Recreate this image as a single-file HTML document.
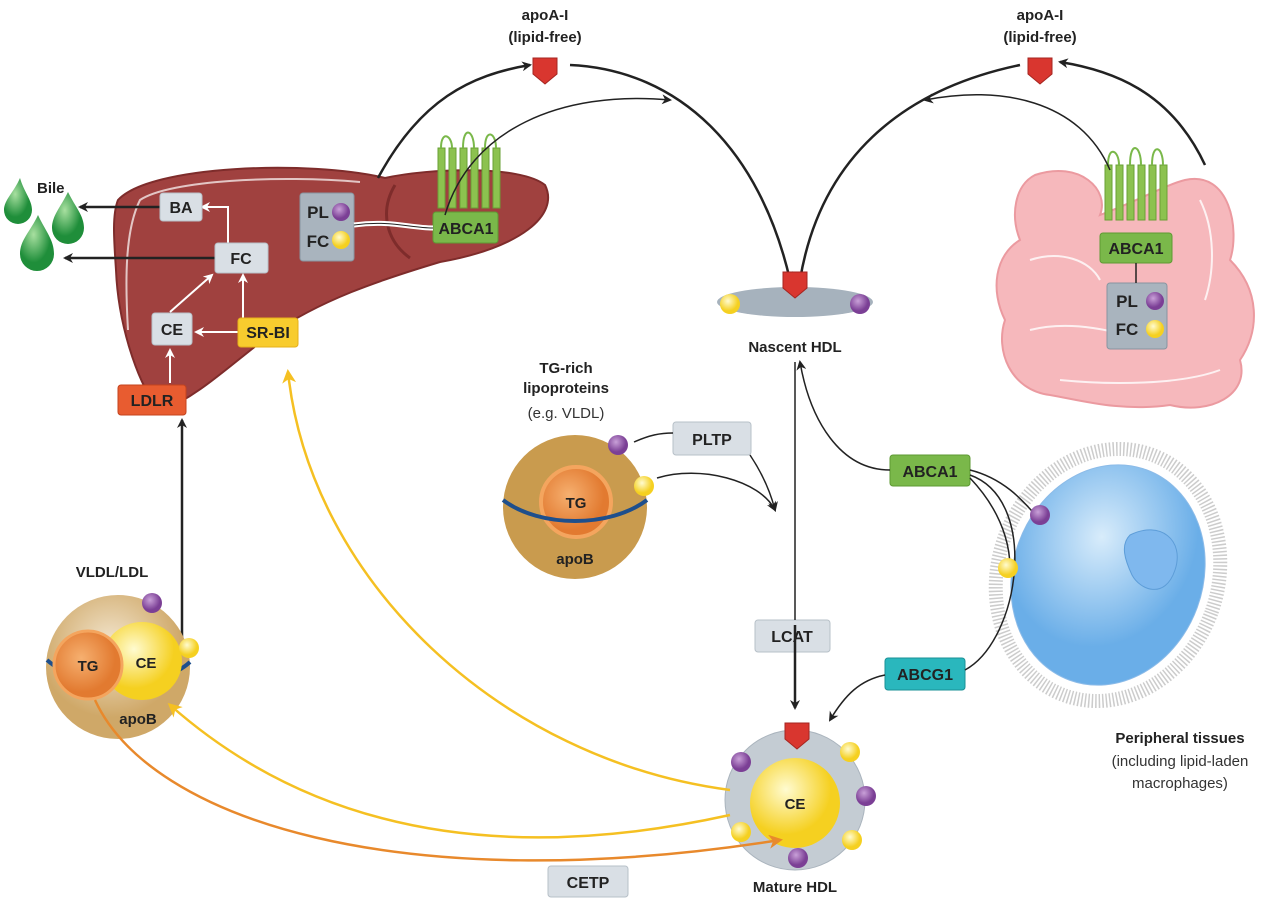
<!DOCTYPE html>
<html><head><meta charset="utf-8"><style>
html,body{margin:0;padding:0;background:#fff;}
svg{display:block;font-family:"Liberation Sans",Arial,sans-serif;}
.b{font-weight:bold;font-size:15px;fill:#222;}
.n{font-size:15px;fill:#333;}
</style></head><body>
<svg width="1270" height="899" viewBox="0 0 1270 899">
<defs>
<marker id="ak" markerWidth="10" markerHeight="10" refX="8" refY="5" orient="auto" markerUnits="userSpaceOnUse"><path d="M0,0 L10,5 L0,10 L3,5Z" fill="#222"/></marker>
<marker id="aw" markerWidth="10" markerHeight="10" refX="8" refY="5" orient="auto" markerUnits="userSpaceOnUse"><path d="M0,0 L10,5 L0,10 L3,5Z" fill="#fff"/></marker>
<marker id="ay" markerWidth="14" markerHeight="14" refX="11" refY="7" orient="auto" markerUnits="userSpaceOnUse"><path d="M0,0 L14,7 L0,14 L4,7Z" fill="#f5c022"/></marker>
<marker id="ao" markerWidth="14" markerHeight="14" refX="11" refY="7" orient="auto" markerUnits="userSpaceOnUse"><path d="M0,0 L14,7 L0,14 L4,7Z" fill="#e8892c"/></marker>
<radialGradient id="gy" cx="40%" cy="35%"><stop offset="0" stop-color="#fffbd0"/><stop offset="1" stop-color="#f5d020"/></radialGradient>
<radialGradient id="gp" cx="40%" cy="35%"><stop offset="0" stop-color="#c9a0d8"/><stop offset="1" stop-color="#7b3f95"/></radialGradient>
<radialGradient id="go" cx="40%" cy="40%"><stop offset="0" stop-color="#f6b070"/><stop offset="1" stop-color="#e27a30"/></radialGradient>
<radialGradient id="gg" cx="40%" cy="35%"><stop offset="0" stop-color="#a8e0a0"/><stop offset="1" stop-color="#1f8e3a"/></radialGradient>
<radialGradient id="gb" cx="40%" cy="35%"><stop offset="0" stop-color="#d8ecfb"/><stop offset="1" stop-color="#6aaee8"/></radialGradient>
<radialGradient id="gt" cx="45%" cy="35%"><stop offset="0" stop-color="#f3e6cf"/><stop offset="1" stop-color="#cfa868"/></radialGradient>
<g id="sh"><path d="M-12,-12 H12 V4 L0,14 L-12,4Z" fill="#d9362f" stroke="#a52520"/></g>
</defs>

<!-- intestine -->
<g fill="#f6b8bc" stroke="#eb9aa0" stroke-width="2">
<path d="M1035,175 C1080,160 1110,190 1100,215 C1140,200 1165,185 1185,180 C1230,170 1240,230 1230,260 C1260,290 1260,330 1240,360 C1250,395 1210,415 1170,405 C1120,412 1080,400 1050,395 C1010,390 995,350 1005,320 C990,290 995,255 1020,240 C1010,215 1015,185 1035,175Z"/>
</g>
<g fill="none" stroke="#fff" stroke-width="2" opacity="0.8">
<path d="M1030,260 C1060,250 1090,260 1100,280"/><path d="M1030,330 C1070,320 1120,330 1150,345"/><path d="M1200,200 C1215,230 1215,270 1205,300"/><path d="M1060,380 C1110,385 1180,385 1220,370"/>
</g>

<!-- cell -->
<ellipse cx="1108" cy="575" rx="110" ry="128" transform="rotate(20 1108 575)" fill="none" stroke="#ccc" stroke-width="14" stroke-dasharray="1.5 2"/>
<ellipse cx="1108" cy="575" rx="95" ry="112" transform="rotate(20 1108 575)" fill="url(#gb)" stroke="#8cbbe8"/>
<path d="M1130,535 C1160,520 1185,540 1175,570 C1165,600 1140,590 1132,575 C1125,560 1120,545 1130,535Z" fill="#7fb8ee" stroke="#5d9dd8"/>

<!-- liver -->
<path d="M118,200 C150,165 310,160 385,178 C430,168 520,165 545,185 C560,215 520,248 440,262 C380,280 320,300 270,335 C230,365 200,395 160,412 C135,380 118,320 116,270 C114,240 112,215 118,200Z" fill="#a0413f" stroke="#7e2c2b" stroke-width="2"/>
<path d="M128,330 C125,280 125,230 140,200 C170,180 280,175 360,182" fill="none" stroke="#fff" stroke-width="2" opacity="0.7"/>
<path d="M395,185 C380,210 385,240 410,258" fill="none" stroke="#7e2c2b" stroke-width="3"/>

<!-- bile -->
<g fill="url(#gg)">
<path d="M20,178 C14,192 4,200 4,210 A14,14 0 0,0 32,210 C32,200 24,192 20,178Z"/>
<path d="M68,192 C60,208 52,216 52,228 A16,16 0 0,0 84,228 C84,216 76,208 68,192Z"/>
<path d="M38,215 C30,232 20,240 20,254 A17,17 0 0,0 54,254 C54,240 46,232 38,215Z"/>
</g>
<text x="37" y="193" class="b">Bile</text>

<!-- liver arrows -->
<g stroke="#222" stroke-width="2.5" fill="none" marker-end="url(#ak)">
<line x1="160" y1="207" x2="80" y2="207"/><line x1="215" y1="258" x2="65" y2="258"/>
</g>
<g stroke="#fff" stroke-width="2" fill="none" marker-end="url(#aw)">
<polyline points="228,243 228,207 202,207"/>
<line x1="170" y1="312" x2="212" y2="275"/>
<line x1="243" y1="318" x2="243" y2="275"/>
<line x1="238" y1="332" x2="196" y2="332"/>
<line x1="170" y1="383" x2="170" y2="350"/>
</g>

<!-- boxes -->
<g font-weight="bold" font-size="16" text-anchor="middle" fill="#222">
<rect x="160" y="193" width="42" height="28" rx="3" fill="#d9dfe5" stroke="#b7c0c8"/><text x="181" y="213">BA</text>
<rect x="215" y="243" width="53" height="30" rx="3" fill="#d9dfe5" stroke="#b7c0c8"/><text x="241" y="264">FC</text>
<rect x="152" y="313" width="40" height="32" rx="3" fill="#d9dfe5" stroke="#b7c0c8"/><text x="172" y="335">CE</text>
<rect x="238" y="318" width="60" height="29" rx="3" fill="#f8cc2e" stroke="#e6b01a"/><text x="268" y="338">SR-BI</text>
<rect x="118" y="385" width="68" height="30" rx="3" fill="#e85c30" stroke="#c4431e"/><text x="152" y="406">LDLR</text>
<rect x="300" y="193" width="54" height="68" rx="3" fill="#a9b4be" stroke="#8895a0"/><text x="318" y="218" font-size="17">PL</text><text x="318" y="247" font-size="17">FC</text>
<rect x="433" y="212" width="65" height="31" rx="3" fill="#7ab84a" stroke="#5e9a33"/><text x="466" y="234">ABCA1</text>
<rect x="1100" y="233" width="72" height="30" rx="3" fill="#7ab84a" stroke="#5e9a33"/><text x="1136" y="254">ABCA1</text>
<rect x="1107" y="283" width="60" height="66" rx="3" fill="#a9b4be" stroke="#8895a0"/><text x="1127" y="307" font-size="17">PL</text><text x="1127" y="335" font-size="17">FC</text>
<rect x="673" y="422" width="78" height="33" rx="3" fill="#d9dfe5" stroke="#b7c0c8"/><text x="712" y="445">PLTP</text>
<rect x="890" y="455" width="80" height="31" rx="3" fill="#7ab84a" stroke="#5e9a33"/><text x="930" y="477">ABCA1</text>
<rect x="755" y="620" width="75" height="32" rx="3" fill="#d9dfe5" stroke="#b7c0c8"/><text x="792" y="642">LCAT</text>
<rect x="885" y="658" width="80" height="32" rx="3" fill="#2ab7bd" stroke="#1a9096"/><text x="925" y="680">ABCG1</text>
<rect x="548" y="866" width="80" height="31" rx="3" fill="#d9dfe5" stroke="#b7c0c8"/><text x="588" y="888">CETP</text>
</g>
<circle cx="341" cy="212" r="9" fill="url(#gp)"/><circle cx="341" cy="240" r="9" fill="url(#gy)"/>
<circle cx="1155" cy="301" r="9" fill="url(#gp)"/><circle cx="1155" cy="329" r="9" fill="url(#gy)"/>
<path d="M354,225 C390,220 410,228 433,228" fill="none" stroke="#fff" stroke-width="5"/>
<path d="M354,225 C390,220 410,228 433,228" fill="none" stroke="#222" stroke-width="1"/>
<line x1="1136" y1="263" x2="1136" y2="283" stroke="#222" stroke-width="1.5"/>

<!-- transmembrane helices -->
<g fill="#8cc24f" stroke="#6aa035">
<rect x="438" y="148" width="7" height="60"/><rect x="449" y="148" width="7" height="60"/><rect x="460" y="148" width="7" height="60"/><rect x="471" y="148" width="7" height="60"/><rect x="482" y="148" width="7" height="60"/><rect x="493" y="148" width="7" height="60"/>
<rect x="1105" y="165" width="7" height="55"/><rect x="1116" y="165" width="7" height="55"/><rect x="1127" y="165" width="7" height="55"/><rect x="1138" y="165" width="7" height="55"/><rect x="1149" y="165" width="7" height="55"/><rect x="1160" y="165" width="7" height="55"/>
</g>
<path d="M441,148 C441,130 452,135 452,148 M463,148 C463,125 474,130 474,148 M485,148 C485,128 496,132 496,148" fill="none" stroke="#7ab84a" stroke-width="2"/>
<path d="M1108,165 C1108,145 1119,150 1119,165 M1130,165 C1130,140 1141,145 1141,165 M1152,165 C1152,142 1163,146 1163,165" fill="none" stroke="#7ab84a" stroke-width="2"/>

<!-- apoA-I -->
<text x="545" y="20" class="b" text-anchor="middle">apoA-I</text><text x="545" y="42" class="b" text-anchor="middle">(lipid-free)</text>
<use href="#sh" x="545" y="70"/>
<text x="1040" y="20" class="b" text-anchor="middle">apoA-I</text><text x="1040" y="42" class="b" text-anchor="middle">(lipid-free)</text>
<use href="#sh" x="1040" y="70"/>

<!-- big black arcs -->
<g fill="none" stroke="#222" stroke-width="2.5" marker-end="url(#ak)">
<path d="M378,178 C420,100 470,75 530,65"/>
<path d="M570,65 C680,70 760,150 790,280"/>
<path d="M1205,165 C1170,90 1110,70 1060,62"/>
<path d="M1020,65 C900,90 820,160 800,280"/>
<path d="M795,625 L795,708"/>
<path d="M182,660 L182,420"/>
</g>
<g fill="none" stroke="#222" stroke-width="1.5" marker-end="url(#ak)">
<path d="M445,215 C470,130 560,90 670,100"/>
<path d="M1110,170 C1080,100 1000,85 925,100"/>
<path d="M890,470 C840,470 810,420 800,362"/>
<path d="M970,470 C1010,480 1030,510 1040,520"/>
<path d="M885,675 C860,680 845,695 830,720"/>
<path d="M750,455 C760,470 770,490 775,510"/>
<path d="M657,478 C700,465 760,480 775,510"/>
</g>
<g fill="none" stroke="#222" stroke-width="1.5">
<path d="M634,442 C650,435 660,433 673,433"/>
<path d="M795,362 L795,620"/>
<path d="M970,475 C1040,500 1020,640 965,670"/>
<path d="M970,478 C1010,520 1010,560 1010,568"/>
</g>

<!-- Nascent HDL -->
<ellipse cx="795" cy="302" rx="78" ry="15" fill="#a6b2bd"/>
<use href="#sh" x="795" y="284"/>
<circle cx="730" cy="304" r="10" fill="url(#gy)"/><circle cx="860" cy="304" r="10" fill="url(#gp)"/>
<text x="795" y="352" class="b" text-anchor="middle">Nascent HDL</text>

<!-- TG-rich -->
<text x="566" y="373" class="b" text-anchor="middle">TG-rich</text>
<text x="566" y="393" class="b" text-anchor="middle">lipoproteins</text>
<text x="566" y="418" class="n" text-anchor="middle">(e.g. VLDL)</text>
<circle cx="575" cy="507" r="72" fill="#c99b4e"/>
<circle cx="576" cy="502" r="35" fill="url(#go)" stroke="#f4a55e" stroke-width="4"/>
<path d="M503,500 C540,528 610,528 647,500" fill="none" stroke="#1e4f8c" stroke-width="4"/>
<text x="576" y="508" class="b" text-anchor="middle">TG</text>
<text x="575" y="564" class="b" text-anchor="middle">apoB</text>
<circle cx="618" cy="445" r="10" fill="url(#gp)"/><circle cx="644" cy="486" r="10" fill="url(#gy)"/>

<!-- Mature HDL -->
<circle cx="795" cy="800" r="70" fill="#c4ccd3" stroke="#aab4bd"/>
<circle cx="795" cy="803" r="45" fill="url(#gy)"/>
<text x="795" y="809" class="b" text-anchor="middle">CE</text>
<use href="#sh" x="797" y="735"/>
<circle cx="741" cy="762" r="10" fill="url(#gp)"/><circle cx="850" cy="752" r="10" fill="url(#gy)"/>
<circle cx="866" cy="796" r="10" fill="url(#gp)"/><circle cx="852" cy="840" r="10" fill="url(#gy)"/>
<circle cx="798" cy="858" r="10" fill="url(#gp)"/><circle cx="741" cy="832" r="10" fill="url(#gy)"/>
<text x="795" y="892" class="b" text-anchor="middle">Mature HDL</text>

<!-- VLDL/LDL -->
<text x="112" y="577" class="b" text-anchor="middle">VLDL/LDL</text>
<circle cx="118" cy="667" r="72" fill="url(#gt)"/>
<path d="M47,660 C80,690 160,690 190,662" fill="none" stroke="#1e4f8c" stroke-width="4"/>
<ellipse cx="142" cy="661" rx="40" ry="39" fill="url(#gy)"/>
<circle cx="88" cy="665" r="34" fill="url(#go)" stroke="#f4a55e" stroke-width="3"/>
<text x="88" y="671" class="b" text-anchor="middle">TG</text>
<text x="146" y="668" class="b" text-anchor="middle">CE</text>
<text x="138" y="724" class="b" text-anchor="middle">apoB</text>
<circle cx="152" cy="603" r="10" fill="url(#gp)"/><circle cx="189" cy="648" r="10" fill="url(#gy)"/>

<!-- yellow/orange arcs -->
<g fill="none" stroke-width="2.5">
<path d="M730,790 C500,760 310,580 288,372" stroke="#f5c022" marker-end="url(#ay)"/>
<path d="M730,815 C480,870 300,820 170,705" stroke="#f5c022" marker-end="url(#ay)"/>
<path d="M95,700 C150,820 400,900 780,840" stroke="#e8892c" marker-end="url(#ao)"/>
</g>

<!-- Peripheral -->
<text x="1180" y="743" class="b" text-anchor="middle">Peripheral tissues</text>
<text x="1180" y="766" class="n" text-anchor="middle">(including lipid-laden</text>
<text x="1180" y="788" class="n" text-anchor="middle">macrophages)</text>
<circle cx="1040" cy="515" r="10" fill="url(#gp)"/><circle cx="1008" cy="568" r="10" fill="url(#gy)"/>
</svg>
</body></html>
